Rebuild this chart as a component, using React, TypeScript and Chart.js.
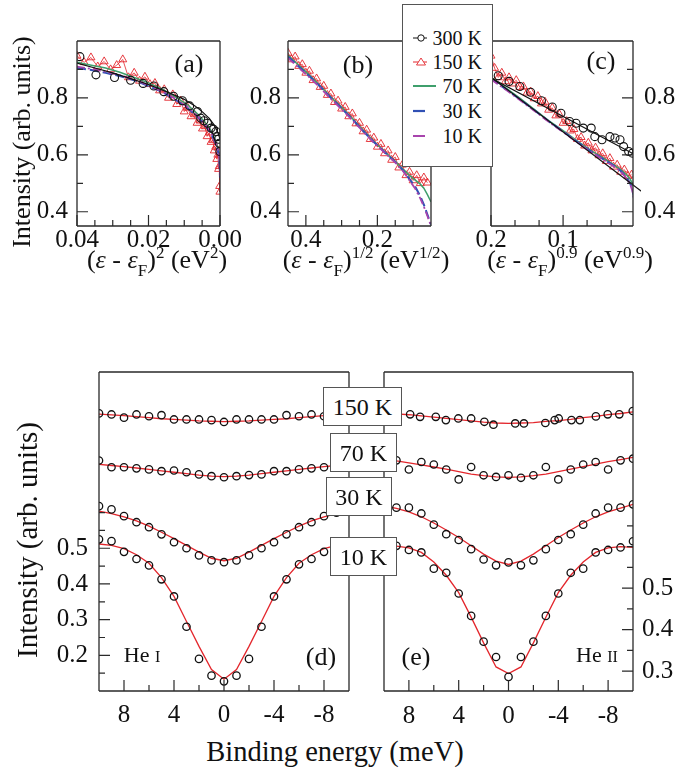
import React, { useEffect, useRef } from 'react';
import { Chart, registerables } from 'chart.js';

Chart.register(...registerables);

const SERIF = '"Liberation Serif", serif';
const C_RED = '#e3262c';
const C_GREEN = '#3f9f6c';
const C_BLUE = '#3050b4';
const C_PURPLE = '#a844ad';
const C_BLACK = '#111111';
const C_FRAME = '#2a2a2a';

// ================= Panel (a): x = (e - eF)^2 =================
const a300X = [0.0392, 0.0347, 0.0295, 0.025, 0.0215, 0.0185, 0.0157, 0.013, 0.0105, 0.0085, 0.0063, 0.0054, 0.0045, 0.0035, 0.0025, 0.0018, 0.0011, 0.0007, 0.0004, 0.0002, 0.00005];
const a300Y = [0.945, 0.881, 0.872, 0.862, 0.851, 0.842, 0.822, 0.806, 0.79, 0.772, 0.752, 0.729, 0.72, 0.711, 0.694, 0.69, 0.682, 0.664, 0.655, 0.641, 0.612];
const aFitX = [0.04, 0.035, 0.03, 0.025, 0.02, 0.015, 0.01, 0.007, 0.005, 0.003, 0.0015, 0.0005, 0];
const aFitY = [0.922, 0.905, 0.888, 0.868, 0.847, 0.822, 0.795, 0.772, 0.752, 0.728, 0.703, 0.676, 0.655];
const a150X = [0.04, 0.038, 0.0361, 0.0342, 0.0324, 0.0306, 0.0289, 0.0272, 0.0256, 0.024, 0.0225, 0.021, 0.0196, 0.0182, 0.0169, 0.0156, 0.0144, 0.0132, 0.0121, 0.011, 0.01, 0.009, 0.0081, 0.0072, 0.0064, 0.0056, 0.0049, 0.0042, 0.0036, 0.003, 0.0025, 0.002, 0.0016, 0.0012, 0.0009, 0.0006, 0.0004, 0.0002, 0.0001, 0.00003];
const a150Y = [0.948, 0.925, 0.942, 0.91, 0.928, 0.9, 0.915, 0.935, 0.872, 0.888, 0.86, 0.874, 0.848, 0.852, 0.826, 0.83, 0.8, 0.812, 0.778, 0.79, 0.752, 0.765, 0.735, 0.742, 0.712, 0.72, 0.692, 0.7, 0.665, 0.678, 0.645, 0.652, 0.615, 0.628, 0.585, 0.6, 0.55, 0.56, 0.49, 0.47];
const aLowX = [0.04, 0.036, 0.032, 0.028, 0.024, 0.02, 0.016, 0.012, 0.009, 0.0064, 0.0042, 0.0025, 0.0012, 0.0005, 0.0002, 0.00005, 0];
const a70Y = [0.925, 0.915, 0.905, 0.89, 0.872, 0.853, 0.83, 0.8, 0.775, 0.745, 0.715, 0.685, 0.65, 0.62, 0.595, 0.56, 0.53];
const a30Y = [0.905, 0.898, 0.888, 0.877, 0.862, 0.842, 0.82, 0.79, 0.764, 0.735, 0.705, 0.675, 0.64, 0.61, 0.585, 0.55, 0.52];
const a10Y = [0.91, 0.902, 0.892, 0.88, 0.865, 0.845, 0.822, 0.793, 0.767, 0.738, 0.708, 0.678, 0.643, 0.613, 0.588, 0.553, 0.525];

// ================= Panel (b): x = (e - eF)^1/2 =================
const bLowX = [0.45, 0.42, 0.39, 0.36, 0.33, 0.3, 0.27, 0.24, 0.21, 0.18, 0.15, 0.13, 0.11, 0.095, 0.08, 0.07, 0.06, 0.05];
const b70Y = [0.95, 0.915, 0.88, 0.842, 0.803, 0.767, 0.728, 0.687, 0.648, 0.612, 0.577, 0.552, 0.528, 0.512, 0.497, 0.483, 0.46, 0.435];
const b30Y = [0.945, 0.91, 0.876, 0.84, 0.8, 0.763, 0.725, 0.684, 0.645, 0.61, 0.575, 0.548, 0.515, 0.49, 0.455, 0.425, 0.39, 0.355];
const b10Y = [0.94, 0.906, 0.872, 0.836, 0.797, 0.76, 0.722, 0.682, 0.643, 0.608, 0.573, 0.546, 0.51, 0.483, 0.447, 0.418, 0.385, 0.35];
const b150X = [0.45, 0.44, 0.43, 0.42, 0.41, 0.4, 0.39, 0.38, 0.37, 0.36, 0.35, 0.34, 0.33, 0.32, 0.31, 0.3, 0.29, 0.28, 0.27, 0.26, 0.25, 0.24, 0.23, 0.22, 0.21, 0.2, 0.19, 0.18, 0.17, 0.16, 0.15, 0.14, 0.13, 0.12, 0.11, 0.1, 0.09, 0.08, 0.07, 0.06];
const b150Y = [0.958, 0.935, 0.945, 0.912, 0.918, 0.888, 0.895, 0.862, 0.868, 0.838, 0.842, 0.81, 0.815, 0.785, 0.79, 0.762, 0.768, 0.735, 0.745, 0.71, 0.712, 0.682, 0.688, 0.655, 0.66, 0.628, 0.638, 0.605, 0.615, 0.582, 0.592, 0.555, 0.565, 0.528, 0.54, 0.51, 0.528, 0.5, 0.52, 0.502];

// ================= Panel (c): x = (e - eF)^0.9 =================
const cLowX = [0.2, 0.18, 0.16, 0.14, 0.12, 0.1, 0.08, 0.06, 0.045, 0.03, 0.02, 0.012, 0.007, 0.004, 0.002, 0.001, 0];
const c70Y = [0.873, 0.836, 0.799, 0.76, 0.72, 0.685, 0.648, 0.613, 0.59, 0.566, 0.548, 0.53, 0.515, 0.5, 0.485, 0.47, 0.44];
const c30Y = [0.868, 0.832, 0.795, 0.757, 0.718, 0.682, 0.645, 0.61, 0.586, 0.562, 0.543, 0.52, 0.5, 0.48, 0.455, 0.43, 0.38];
const c10Y = [0.865, 0.83, 0.793, 0.755, 0.716, 0.68, 0.643, 0.608, 0.584, 0.56, 0.541, 0.518, 0.497, 0.475, 0.45, 0.42, 0.37];
const c150X = [0.2, 0.195, 0.19, 0.185, 0.18, 0.175, 0.17, 0.165, 0.16, 0.155, 0.15, 0.145, 0.14, 0.135, 0.13, 0.125, 0.12, 0.115, 0.11, 0.105, 0.1, 0.095, 0.09, 0.085, 0.08, 0.075, 0.07, 0.065, 0.06, 0.055, 0.05, 0.045, 0.04, 0.035, 0.03, 0.025, 0.02, 0.015, 0.01, 0.005];
const c150Y = [0.948, 0.905, 0.872, 0.888, 0.858, 0.872, 0.85, 0.862, 0.838, 0.84, 0.818, 0.822, 0.798, 0.806, 0.78, 0.786, 0.758, 0.765, 0.738, 0.742, 0.712, 0.718, 0.685, 0.69, 0.655, 0.662, 0.632, 0.642, 0.615, 0.625, 0.598, 0.605, 0.578, 0.588, 0.558, 0.565, 0.54, 0.548, 0.525, 0.53];
const c300X = [0.19, 0.175, 0.16, 0.145, 0.13, 0.115, 0.103, 0.091, 0.082, 0.072, 0.061, 0.056, 0.046, 0.035, 0.028, 0.021, 0.016, 0.009, 0.004];
const c300Y = [0.878, 0.858, 0.84, 0.82, 0.79, 0.768, 0.746, 0.717, 0.711, 0.694, 0.694, 0.664, 0.653, 0.664, 0.659, 0.653, 0.629, 0.612, 0.606];
const cFit300X = [0.2, 0];
const cFit300Y = [0.87, 0.6];
const cFitLowX = [0.2, -0.009];
const cFitLowY = [0.873, 0.471];

// ================= Panel (d): He I =================
const dX = [10, 9, 8, 7, 6, 5, 4, 3, 2, 1, 0, -1, -2, -3, -4, -5, -6, -7, -8, -9, -10];
const d150Y = [0.878, 0.875, 0.866, 0.875, 0.87, 0.873, 0.861, 0.861, 0.861, 0.859, 0.854, 0.861, 0.861, 0.861, 0.861, 0.873, 0.87, 0.875, 0.87, 0.872, 0.875];
const d70Y = [0.746, 0.727, 0.727, 0.724, 0.721, 0.716, 0.718, 0.713, 0.707, 0.702, 0.699, 0.702, 0.705, 0.707, 0.716, 0.716, 0.721, 0.724, 0.727, 0.73, 0.735];
const d30Y = [0.618, 0.609, 0.59, 0.573, 0.559, 0.539, 0.517, 0.5, 0.48, 0.466, 0.461, 0.466, 0.48, 0.5, 0.517, 0.539, 0.559, 0.573, 0.59, 0.6, 0.61];
const d10Y = [0.525, 0.52, 0.49, 0.47, 0.452, 0.413, 0.365, 0.28, 0.19, 0.143, 0.127, 0.143, 0.19, 0.28, 0.365, 0.413, 0.455, 0.47, 0.49, 0.5, 0.51];
const d150Fit = [0.876, 0.874, 0.872, 0.869, 0.866, 0.863, 0.861, 0.859, 0.857, 0.856, 0.855, 0.856, 0.857, 0.859, 0.861, 0.863, 0.866, 0.869, 0.872, 0.874, 0.876];
const d70Fit = [0.735, 0.732, 0.729, 0.725, 0.721, 0.717, 0.713, 0.709, 0.705, 0.702, 0.701, 0.702, 0.705, 0.709, 0.713, 0.717, 0.721, 0.725, 0.729, 0.732, 0.735];
const d30Fit = [0.604, 0.597, 0.588, 0.577, 0.562, 0.545, 0.527, 0.508, 0.489, 0.472, 0.465, 0.472, 0.489, 0.508, 0.527, 0.545, 0.562, 0.577, 0.588, 0.597, 0.604];
const d10Fit = [0.512, 0.508, 0.499, 0.482, 0.458, 0.418, 0.365, 0.295, 0.225, 0.16, 0.133, 0.16, 0.225, 0.295, 0.365, 0.418, 0.458, 0.482, 0.499, 0.508, 0.512];

// ================= Panel (e): He II =================
const e150X = [7.9, 7.1, 5.84, 5.03, 4.03, 3.0, 1.94, 1.21, -0.54, -1.24, -2.96, -3.71, -4.03, -5.06, -5.73, -7.02, -7.97, -8.9, -9.98];
const e150Y = [0.919, 0.913, 0.913, 0.905, 0.909, 0.909, 0.901, 0.894, 0.897, 0.897, 0.898, 0.905, 0.909, 0.905, 0.905, 0.914, 0.919, 0.919, 0.927];
const eX = [9, 8, 7, 6, 5, 4, 3, 2, 1, 0, -1, -2, -3, -4, -5, -6, -7, -8, -9, -10];
const e70Y = [0.808, 0.786, 0.804, 0.798, 0.786, 0.762, 0.792, 0.772, 0.768, 0.772, 0.766, 0.772, 0.792, 0.762, 0.786, 0.798, 0.804, 0.786, 0.808, 0.812];
const e30Y = [0.694, 0.694, 0.68, 0.653, 0.63, 0.616, 0.594, 0.569, 0.555, 0.562, 0.555, 0.567, 0.594, 0.616, 0.63, 0.653, 0.68, 0.694, 0.694, 0.702];
const e10Y = [0.602, 0.592, 0.586, 0.547, 0.537, 0.487, 0.433, 0.371, 0.334, 0.286, 0.334, 0.371, 0.433, 0.487, 0.537, 0.547, 0.586, 0.592, 0.598, 0.613];
const eFitX = [10, 9, 8, 7, 6, 5, 4, 3, 2, 1, 0, -1, -2, -3, -4, -5, -6, -7, -8, -9, -10];
const e150Fit = [0.923, 0.92, 0.918, 0.915, 0.912, 0.909, 0.906, 0.903, 0.9, 0.898, 0.897, 0.898, 0.899, 0.902, 0.904, 0.907, 0.911, 0.914, 0.918, 0.921, 0.925];
const e70Fit = [0.812, 0.807, 0.802, 0.797, 0.792, 0.787, 0.781, 0.775, 0.771, 0.768, 0.767, 0.768, 0.771, 0.775, 0.781, 0.787, 0.793, 0.799, 0.805, 0.81, 0.815];
const e30Fit = [0.698, 0.692, 0.684, 0.672, 0.657, 0.64, 0.622, 0.602, 0.582, 0.565, 0.557, 0.565, 0.582, 0.602, 0.622, 0.64, 0.657, 0.672, 0.684, 0.693, 0.702];
const e10Fit = [0.603, 0.601, 0.597, 0.586, 0.563, 0.531, 0.489, 0.43, 0.368, 0.31, 0.294, 0.31, 0.368, 0.43, 0.489, 0.531, 0.563, 0.586, 0.597, 0.6, 0.598];

// ================= ticks =================
const topYMajor = [0.4, 0.6, 0.8];
const topYMinor = [0.5, 0.7, 0.9];
const aXMajor = [0.04, 0.02, 0];
const aXMinor = [0.035, 0.03, 0.025, 0.015, 0.01, 0.005];
const bXMajor = [0.4, 0.2];
const bXMinor = [0.35, 0.3, 0.25, 0.15, 0.1];
const cXMajor = [0.2, 0.1];
const cXMinor = [0.1667, 0.1333, 0.0667, 0.0333];
const lowXMajor = [8, 4, 0, -4, -8];
const lowXMinor = [6, 2, -2, -6];
const dYMajor = [0.2, 0.3, 0.4, 0.5];
const dYMinor = [0.15, 0.25, 0.35, 0.45, 0.55, 0.6];
const eYMajor = [0.3, 0.4, 0.5];
const eYMinor = [0.35, 0.45, 0.55, 0.6, 0.65];

// ================= helpers =================
type Pt = { x: number; y: number };
const pts = (xs: number[], ys: number[]): Pt[] => xs.map((x, i) => ({ x, y: ys[i] }));

const lineDs = (data: Pt[], color: string, width: number, dash: number[] = [], extra: any = {}) => ({
  data, showLine: true, borderColor: color, borderWidth: width, borderDash: dash,
  pointRadius: 0, fill: false, tension: 0, ...extra,
});
const circleDs = (data: Pt[], r: number, w: number) => ({
  data, showLine: false, pointStyle: 'circle', pointRadius: r,
  pointBorderColor: C_BLACK, pointBackgroundColor: 'rgba(0,0,0,0)', pointBorderWidth: w,
});
const triDs = (data: Pt[]) => ({
  data, showLine: true, borderColor: C_RED, borderWidth: 0.8, pointStyle: 'triangle', pointRadius: 4.6,
  pointBorderColor: C_RED, pointBackgroundColor: 'rgba(0,0,0,0)', pointBorderWidth: 0.9,
});

interface Ticks { major: number[]; minor: number[]; fmt: (v: number) => string }
interface Spec {
  plot: { l: number; t: number; r: number; b: number };
  margin: { l: number; r: number; t: number; b: number };
  x: [number, number];
  y: [number, number];
  xt: Ticks;
  yt: Ticks;
  ySide: 'left' | 'right';
  frame: { top: boolean; left: boolean; right: boolean; bottom: boolean };
  xLabelDy: number;
  yLabelDx: number;
  datasets: any[];
}

const MAJ = 11;
const MIN = 6;

function framePlugin(spec: Spec) {
  return {
    id: 'frameTicks',
    afterDatasetsDraw(chart: any) {
      const ctx: CanvasRenderingContext2D = chart.ctx;
      const { left, right, top, bottom } = chart.chartArea;
      const xs = chart.scales.x;
      const ys = chart.scales.y;
      ctx.save();
      ctx.strokeStyle = C_FRAME;
      ctx.lineWidth = 1.3;
      ctx.beginPath();
      if (spec.frame.top) { ctx.moveTo(left, top); ctx.lineTo(right, top); }
      if (spec.frame.bottom) { ctx.moveTo(left, bottom); ctx.lineTo(right, bottom); }
      if (spec.frame.left) { ctx.moveTo(left, top); ctx.lineTo(left, bottom); }
      if (spec.frame.right) { ctx.moveTo(right, top); ctx.lineTo(right, bottom); }
      ctx.stroke();
      ctx.lineWidth = 1.2;
      ctx.beginPath();
      const xt = (v: number, len: number) => {
        const p = xs.getPixelForValue(v);
        ctx.moveTo(p, bottom); ctx.lineTo(p, bottom - len);
      };
      spec.xt.major.forEach((v) => xt(v, MAJ));
      spec.xt.minor.forEach((v) => xt(v, MIN));
      const yt = (v: number, len: number) => {
        const p = ys.getPixelForValue(v);
        if (spec.ySide === 'left') { ctx.moveTo(left, p); ctx.lineTo(left + len, p); }
        else { ctx.moveTo(right, p); ctx.lineTo(right - len, p); }
      };
      spec.yt.major.forEach((v) => yt(v, MAJ));
      spec.yt.minor.forEach((v) => yt(v, MIN));
      ctx.stroke();
      ctx.fillStyle = C_BLACK;
      ctx.font = `25px ${SERIF}`;
      ctx.textBaseline = 'middle';
      ctx.textAlign = 'center';
      spec.xt.major.forEach((v) => {
        ctx.fillText(spec.xt.fmt(v), xs.getPixelForValue(v), bottom + spec.xLabelDy);
      });
      ctx.textAlign = spec.ySide === 'left' ? 'right' : 'left';
      spec.yt.major.forEach((v) => {
        const x = spec.ySide === 'left' ? left - spec.yLabelDx : right + spec.yLabelDx;
        ctx.fillText(spec.yt.fmt(v), x, ys.getPixelForValue(v));
      });
      ctx.restore();
    },
  };
}

const f1 = (v: number) => v.toFixed(1);
const f2 = (v: number) => v.toFixed(2);
const fi = (v: number) => String(v);

const TOP_M = { l: 60, r: 55, t: 10, b: 40 };
const LOW_M = { l: 60, r: 55, t: 10, b: 40 };
const FULL = { top: true, left: true, right: true, bottom: true };

const PANELS: Spec[] = [
  {
    plot: { l: 77, t: 41, r: 220, b: 226 }, margin: TOP_M,
    x: [0, 0.04], y: [0.35, 1.0],
    xt: { major: aXMajor, minor: aXMinor, fmt: f2 }, yt: { major: topYMajor, minor: topYMinor, fmt: f1 },
    ySide: 'left', frame: FULL, xLabelDy: 14, yLabelDx: 9,
    datasets: [
      lineDs(pts(aFitX, aFitY), C_BLACK, 1.2),
      circleDs(pts(a300X, a300Y), 4, 1.1),
      lineDs(pts(aLowX, a10Y), C_PURPLE, 1.8, [8, 3, 2, 3]),
      lineDs(pts(aLowX, a30Y), C_BLUE, 2, [9, 4]),
      lineDs(pts(aLowX, a70Y), C_GREEN, 1.5),
      triDs(pts(a150X, a150Y)),
    ],
  },
  {
    plot: { l: 288, t: 41, r: 431, b: 226 }, margin: TOP_M,
    x: [0.05, 0.45], y: [0.35, 1.0],
    xt: { major: bXMajor, minor: bXMinor, fmt: f1 }, yt: { major: topYMajor, minor: topYMinor, fmt: f1 },
    ySide: 'left', frame: FULL, xLabelDy: 14, yLabelDx: 7,
    datasets: [
      lineDs(pts(bLowX, b10Y), C_PURPLE, 1.8, [8, 3, 2, 3]),
      lineDs(pts(bLowX, b30Y), C_BLUE, 2, [9, 4]),
      lineDs(pts(bLowX, b70Y), C_GREEN, 1.5),
      triDs(pts(b150X, b150Y)),
    ],
  },
  {
    plot: { l: 491, t: 41, r: 633, b: 226 }, margin: TOP_M,
    x: [0.003, 0.2], y: [0.35, 1.0],
    xt: { major: cXMajor, minor: cXMinor, fmt: f1 }, yt: { major: topYMajor, minor: topYMinor, fmt: f1 },
    ySide: 'right', frame: FULL, xLabelDy: 14, yLabelDx: 11,
    datasets: [
      lineDs(pts(cFitLowX, cFitLowY), C_BLACK, 1.2, [], { clip: { left: 0, top: 0, right: 8, bottom: 0 } }),
      lineDs(pts(cFit300X, cFit300Y), C_BLACK, 1.2),
      circleDs(pts(c300X, c300Y), 4, 1.1),
      lineDs(pts(cLowX, c10Y), C_PURPLE, 1.8, [8, 3, 2, 3]),
      lineDs(pts(cLowX, c30Y), C_BLUE, 2, [9, 4]),
      lineDs(pts(cLowX, c70Y), C_GREEN, 1.5),
      triDs(pts(c150X, c150Y)),
    ],
  },
  {
    plot: { l: 99, t: 372, r: 349, b: 691 }, margin: LOW_M,
    x: [-10, 10], y: [0.1, 0.994],
    xt: { major: lowXMajor, minor: lowXMinor, fmt: fi }, yt: { major: dYMajor, minor: dYMinor, fmt: f1 },
    ySide: 'left', frame: FULL, xLabelDy: 24, yLabelDx: 11,
    datasets: [
      circleDs(pts(dX, d150Y), 3.7, 1.3),
      circleDs(pts(dX, d70Y), 3.7, 1.3),
      circleDs(pts(dX, d30Y), 3.7, 1.3),
      circleDs(pts(dX, d10Y), 3.7, 1.3),
      lineDs(pts(dX, d150Fit), C_RED, 1.3),
      lineDs(pts(dX, d70Fit), C_RED, 1.3),
      lineDs(pts(dX, d30Fit), C_RED, 1.3),
      lineDs(pts(dX, d10Fit), C_RED, 1.3),
    ],
  },
  {
    plot: { l: 384, t: 372, r: 633, b: 691 }, margin: LOW_M,
    x: [-10, 10], y: [0.252, 1.021],
    xt: { major: lowXMajor, minor: lowXMinor, fmt: fi }, yt: { major: eYMajor, minor: eYMinor, fmt: f1 },
    ySide: 'right', frame: FULL, xLabelDy: 25, yLabelDx: 9,
    datasets: [
      circleDs(pts(e150X, e150Y), 3.7, 1.3),
      circleDs(pts(eX, e70Y), 3.7, 1.3),
      circleDs(pts(eX, e30Y), 3.7, 1.3),
      circleDs(pts(eX, e10Y), 3.7, 1.3),
      lineDs(pts(eFitX, e150Fit), C_RED, 1.3),
      lineDs(pts(eFitX, e70Fit), C_RED, 1.3),
      lineDs(pts(eFitX, e30Fit), C_RED, 1.3),
      lineDs(pts(eFitX, e10Fit), C_RED, 1.3),
    ],
  },
];

function ChartPanel({ spec }: { spec: Spec }) {
  const ref = useRef<HTMLCanvasElement>(null);
  const { plot, margin } = spec;
  const w = plot.r - plot.l + margin.l + margin.r;
  const h = plot.b - plot.t + margin.t + margin.b;
  useEffect(() => {
    if (!ref.current) return;
    const chart = new Chart(ref.current, {
      type: 'scatter',
      data: { datasets: spec.datasets },
      options: {
        animation: false,
        responsive: false,
        maintainAspectRatio: false,
        devicePixelRatio: 1,
        events: [],
        layout: { padding: { left: margin.l, right: margin.r, top: margin.t, bottom: margin.b } },
        plugins: { legend: { display: false }, tooltip: { enabled: false } },
        scales: {
          x: { type: 'linear', display: false, min: spec.x[0], max: spec.x[1], reverse: true },
          y: { type: 'linear', display: false, min: spec.y[0], max: spec.y[1] },
        },
      } as any,
      plugins: [framePlugin(spec) as any],
    } as any);
    return () => chart.destroy();
  }, [spec]);
  return (
    <canvas
      ref={ref}
      width={w}
      height={h}
      style={{ position: 'absolute', left: plot.l - margin.l, top: plot.t - margin.t, width: w, height: h }}
    />
  );
}

const abs = (left: number, top: number, size: number, extra: React.CSSProperties = {}): React.CSSProperties => ({
  position: 'absolute', left, top, fontSize: size, lineHeight: 1, whiteSpace: 'nowrap', fontFamily: SERIF,
  transform: 'translate(-50%, -50%)', ...extra,
});

const sub: React.CSSProperties = { fontSize: 17, position: 'relative', top: 8, fontStyle: 'normal' };
const sup: React.CSSProperties = { fontSize: 17, position: 'relative', top: -10 };

function EpsTitle({ x, p }: { x: number; p: string }) {
  return (
    <div style={abs(x, 260, 26)}>
      (<i>ε</i> - <i>ε</i><span style={sub}>F</span>)<span style={sup}>{p}</span> (eV<span style={sup}>{p}</span>)
    </div>
  );
}

const TEMP_BOXES = [
  { label: '150 K', l: 323, t: 387, r: 402, b: 426 },
  { label: '70 K', l: 330, t: 433, r: 397, b: 472 },
  { label: '30 K', l: 326, t: 477, r: 392, b: 516 },
  { label: '10 K', l: 330, t: 537, r: 397, b: 576 },
];

function Legend() {
  const rows = [
    { t: '300 K', y: 34 },
    { t: '150 K', y: 58 },
    { t: '70 K', y: 82 },
    { t: '30 K', y: 107 },
    { t: '10 K', y: 132 },
  ];
  return (
    <svg width={92} height={164} style={{ position: 'absolute', left: 402, top: 4 }}>
      <rect x={0.5} y={0.5} width={90} height={162} fill="#fff" stroke="#555" strokeWidth={1} />
      <line x1={11} x2={25} y1={rows[0].y} y2={rows[0].y} stroke={C_BLACK} strokeWidth={1} />
      <circle cx={19} cy={rows[0].y} r={3.2} fill="#fff" stroke={C_BLACK} strokeWidth={1} />
      <line x1={11} x2={25} y1={rows[1].y} y2={rows[1].y} stroke={C_RED} strokeWidth={1} />
      <polygon points={`19,${rows[1].y - 4} 23.5,${rows[1].y + 3} 14.5,${rows[1].y + 3}`} fill="#fff" stroke={C_RED} strokeWidth={0.9} />
      <line x1={11} x2={34} y1={rows[2].y} y2={rows[2].y} stroke={C_GREEN} strokeWidth={2} />
      <line x1={11} x2={23} y1={rows[3].y} y2={rows[3].y} stroke={C_BLUE} strokeWidth={2.2} />
      <line x1={11} x2={23} y1={rows[4].y} y2={rows[4].y} stroke={C_PURPLE} strokeWidth={2} />
      {rows.map((r) => (
        <text key={r.t} x={80} y={r.y + 7} textAnchor="end" fontFamily="Liberation Serif" fontSize={20} fill={C_BLACK}>{r.t}</text>
      ))}
    </svg>
  );
}

export default function App() {
  return (
    <div style={{ position: 'absolute', left: 0, top: 0, width: 685, height: 777, overflow: 'hidden', background: '#fff', fontFamily: SERIF, color: C_BLACK }}>
      {PANELS.map((p, i) => <ChartPanel key={i} spec={p} />)}

      <div style={abs(22, 142, 26, { transform: 'translate(-50%, -50%) rotate(-90deg)' })}>Intensity (arb. units)</div>
      <div style={abs(27, 540, 29, { transform: 'translate(-50%, -50%) rotate(-90deg)' })}>Intensity (arb. units)</div>

      <EpsTitle x={157} p="2" />
      <EpsTitle x={366} p="1/2" />
      <EpsTitle x={570} p="0.9" />
      <div style={abs(335, 752, 28.5)}>Binding energy (meV)</div>

      <div style={abs(189, 64, 26)}>(a)</div>
      <div style={abs(358, 65, 26)}>(b)</div>
      <div style={abs(601, 61, 26)}>(c)</div>
      <div style={abs(321, 657, 26)}>(d)</div>
      <div style={abs(416, 657, 26)}>(e)</div>

      <div style={abs(142, 655, 22)}>He <span style={{ fontSize: 16 }}>I</span></div>
      <div style={abs(597, 655, 22)}>He <span style={{ fontSize: 16 }}>II</span></div>

      {TEMP_BOXES.map((b) => (
        <div key={b.label} style={{
          position: 'absolute', left: b.l, top: b.t, width: b.r - b.l, height: b.b - b.t, boxSizing: 'border-box',
          border: '1px solid #555', background: '#fff', display: 'flex', alignItems: 'center', justifyContent: 'center',
          fontSize: 24, lineHeight: 1, fontFamily: SERIF,
        }}>{b.label}</div>
      ))}

      <Legend />
    </div>
  );
}
